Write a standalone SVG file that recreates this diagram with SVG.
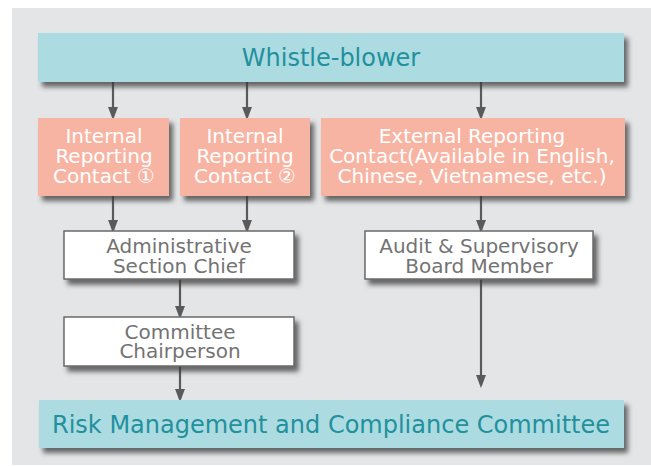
<svg xmlns="http://www.w3.org/2000/svg" width="651" height="466" viewBox="0 0 651 466">
<defs>
<filter id="sh" x="-10%" y="-20%" width="130%" height="160%">
<feDropShadow dx="4" dy="5" stdDeviation="2.5" flood-color="#3a3a3a" flood-opacity="0.75"/>
</filter>
<marker id="ah" markerWidth="13" markerHeight="17" refX="13" refY="6.5" orient="auto" markerUnits="userSpaceOnUse" viewBox="0 0 17 13">
<path d="M0,0 L17,6.5 L0,13 Z" fill="#5a5a5a"/>
</marker>
<style>
.t{font-family:"DejaVu Sans",sans-serif;text-anchor:middle}
.teal{fill:#acdce2}
.tealt{fill:#22909d;font-size:24px}
.sal{fill:#f8b4a3}
.salt{fill:#ffffff;font-size:20px}
.wb{fill:#ffffff;stroke:#6a6a6a;stroke-width:1.5}
.wbt{fill:#737373;font-size:20px}
.c{stroke:#5a5a5a;stroke-width:2.2;fill:none}
</style>
</defs>
<rect x="12" y="8" width="639" height="457" fill="#e4e5e7"/>
<g id="connectors">
<line class="c" x1="113" y1="82" x2="113" y2="117" marker-end="url(#ah)"/>
<line class="c" x1="247" y1="82" x2="247" y2="117" marker-end="url(#ah)"/>
<line class="c" x1="481" y1="82" x2="481" y2="117" marker-end="url(#ah)"/>
<line class="c" x1="113" y1="196" x2="113" y2="230" marker-end="url(#ah)"/>
<line class="c" x1="247" y1="196" x2="247" y2="230" marker-end="url(#ah)"/>
<line class="c" x1="481" y1="196" x2="481" y2="230" marker-end="url(#ah)"/>
<line class="c" x1="180" y1="279" x2="180" y2="316" marker-end="url(#ah)"/>
<line class="c" x1="180" y1="366" x2="180" y2="399" marker-end="url(#ah)"/>
<line class="c" x1="481" y1="279" x2="481" y2="385" marker-end="url(#ah)"/>
</g>
<g id="whistle-blower">
<rect class="teal" x="38" y="33" width="586" height="49" filter="url(#sh)"/>
<text class="t tealt" x="331" y="66">Whistle-blower</text>
</g>
<g id="internal-1">
<rect class="sal" x="38" y="118" width="131" height="78" filter="url(#sh)"/>
<text class="t salt" x="104" y="143">Internal</text>
<text class="t salt" x="104" y="163">Reporting</text>
<text class="t salt" x="104" y="183">Contact ①</text>
</g>
<g id="internal-2">
<rect class="sal" x="180" y="118" width="130" height="78" filter="url(#sh)"/>
<text class="t salt" x="245" y="143">Internal</text>
<text class="t salt" x="245" y="163">Reporting</text>
<text class="t salt" x="245" y="183">Contact ②</text>
</g>
<g id="external">
<rect class="sal" x="321" y="118" width="304" height="78" filter="url(#sh)"/>
<text class="t salt" x="472" y="143">External Reporting</text>
<text class="t salt" x="472" y="163">Contact(Available in English,</text>
<text class="t salt" x="472" y="183">Chinese, Vietnamese, etc.)</text>
</g>
<g id="admin-chief">
<rect class="wb" x="64" y="231" width="230" height="48" filter="url(#sh)"/>
<text class="t wbt" x="179" y="253">Administrative</text>
<text class="t wbt" x="179" y="273">Section Chief</text>
</g>
<g id="committee-chair">
<rect class="wb" x="64" y="317" width="230" height="49" filter="url(#sh)"/>
<text class="t wbt" x="180" y="339">Committee</text>
<text class="t wbt" x="180" y="358">Chairperson</text>
</g>
<g id="audit">
<rect class="wb" x="365" y="231" width="228" height="48" filter="url(#sh)"/>
<text class="t wbt" x="479" y="253">Audit &amp; Supervisory</text>
<text class="t wbt" x="479" y="273">Board Member</text>
</g>
<g id="risk-committee">
<rect class="teal" x="39" y="400" width="585" height="48" filter="url(#sh)"/>
<text class="t tealt" x="331" y="433">Risk Management and Compliance Committee</text>
</g>
</svg>
